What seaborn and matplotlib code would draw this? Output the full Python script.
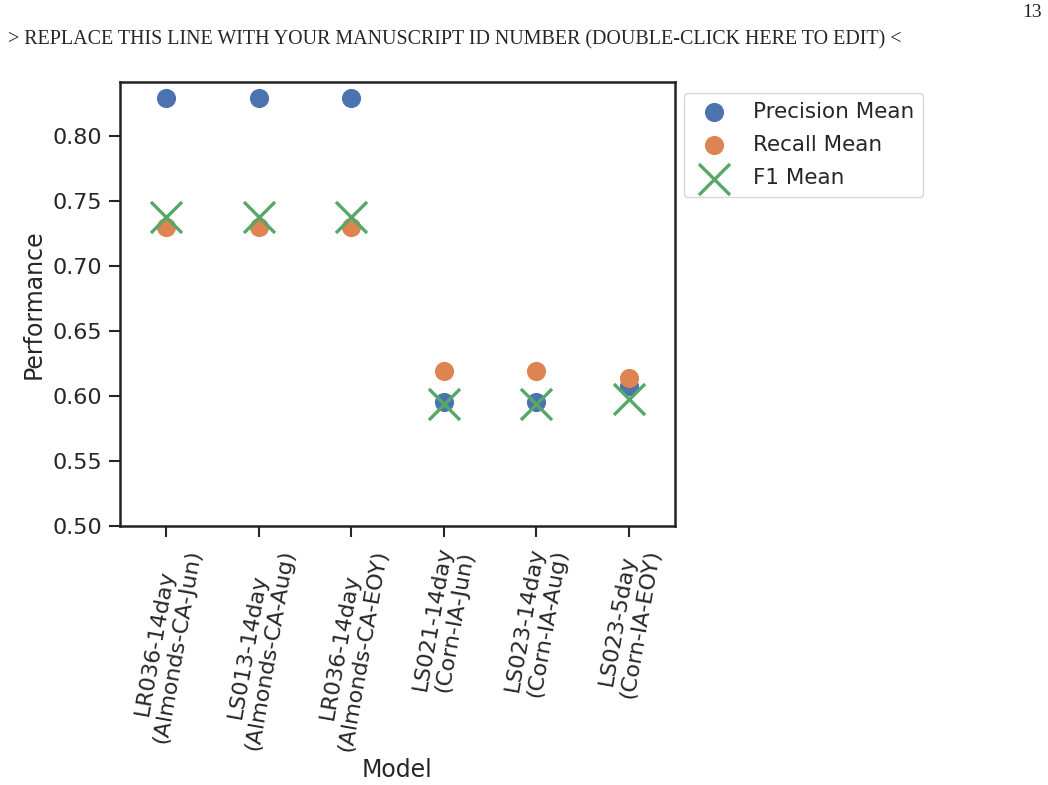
import matplotlib
matplotlib.use('Agg')
import matplotlib.pyplot as plt
import pandas as pd
import seaborn as sns

models = ['LR036-14day\n(Almonds-CA-Jun)',
          'LS013-14day\n(Almonds-CA-Aug)',
          'LR036-14day\n(Almonds-CA-EOY)',
          'LS021-14day\n(Corn-IA-Jun)',
          'LS023-14day\n(Corn-IA-Aug)',
          'LS023-5day\n(Corn-IA-EOY)']
precision_mean = [0.829, 0.829, 0.829, 0.595, 0.595, 0.608]
recall_mean = [0.730, 0.730, 0.730, 0.619, 0.619, 0.614]
f1_mean = [0.738, 0.738, 0.738, 0.594, 0.594, 0.598]

df = pd.DataFrame({'Model': models,
                   'Precision Mean': precision_mean,
                   'Recall Mean': recall_mean,
                   'F1 Mean': f1_mean})

sns.set_theme(style='ticks', palette='deep')
plt.rcParams['font.family'] = ['DejaVu Sans']
pal = sns.color_palette('deep')

fig = plt.figure(figsize=(10.48, 7.85), dpi=100)
ax = fig.add_axes([0.1145, 0.330, 0.5295, 0.5655])

sns.scatterplot(data=df, x='Model', y='Precision Mean', ax=ax, color=pal[0],
                s=190, linewidth=0, label='Precision Mean')
sns.scatterplot(data=df, x='Model', y='Recall Mean', ax=ax, color=pal[1],
                s=190, linewidth=0, label='Recall Mean')
sns.scatterplot(data=df, x='Model', y='F1 Mean', ax=ax, color=pal[2],
                marker='x', s=500, linewidth=2.4, label='F1 Mean')

ax.set_xlim(-0.5, 5.5)
ax.set_ylim(0.5, 0.8415)
ax.set_xlabel('Model', fontsize=17, labelpad=4)
ax.set_ylabel('Performance', fontsize=17, labelpad=5)
ax.tick_params(axis='both', labelsize=16, width=1.5, length=8, pad=5)
for lab in ax.get_xticklabels():
    lab.set_rotation(80)
    lab.set_ha('center')
for sp in ax.spines.values():
    sp.set_linewidth(1.8)
    sp.set_color('#222222')

ax.legend(loc='upper left', bbox_to_anchor=(1.005, 0.99), fontsize=15.5,
          handletextpad=0.8, labelspacing=0.62, borderaxespad=0.3)

fig.text(0.008, 0.949, '> REPLACE THIS LINE WITH YOUR MANUSCRIPT ID NUMBER (DOUBLE-CLICK HERE TO EDIT) <',
         family='Liberation Serif', fontsize=14.4, va='center', ha='left')
fig.text(0.994, 0.984, '13', family='Liberation Serif', fontsize=14, va='center', ha='right')

fig.savefig('out.png', dpi=100)
